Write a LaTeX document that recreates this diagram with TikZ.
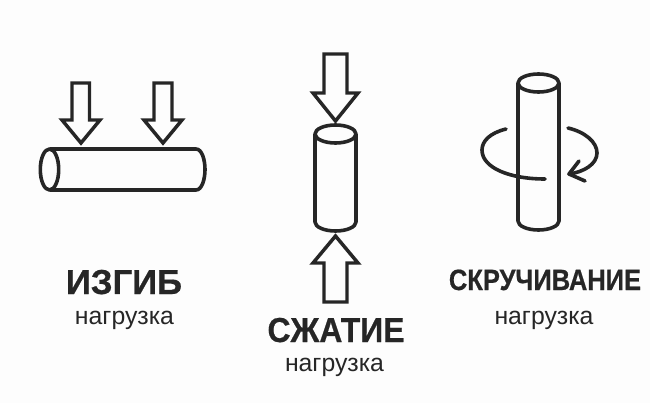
\documentclass[tikz,border=0pt]{standalone}
\usepackage{graphicx}
\usepackage{fontspec}
\setmainfont[BoldFeatures={FakeBold=0.6}]{Liberation Sans}
\definecolor{ink}{HTML}{262626}
\definecolor{paper}{HTML}{FDFDFD}
\tikzset{
  shape line/.style={draw=ink,line width=2.6pt,line join=miter,fill=none},
  thin shape/.style={draw=ink,line width=2.7pt,line join=round},
  title/.style={anchor=base,text=ink,inner sep=0pt,font=\fontsize{#1}{#1}\selectfont\bfseries},
  sub/.style={anchor=base,text=ink,inner sep=0pt,font=\fontsize{18.6}{18.6}\selectfont},
}
\begin{document}
\begin{tikzpicture}[x=0.75pt,y=-0.75pt]
\useasboundingbox (0,0) rectangle (650,403);
\fill[paper] (0,0) rectangle (650,403);
% bending
\draw[thin shape] (49.5,149) -- (196,149) .. controls (202,149) and (205,160) .. (205,169.5) .. controls (205,179) and (202,190) .. (196,190) -- (49.5,190);
\draw[thin shape] (49.5,169.5) ellipse [x radius=9.2,y radius=20.5];
\draw[shape line] (72,83) -- (89.5,83) -- (89.5,120) -- (100,120) -- (81,143) -- (62,120) -- (72,120) -- cycle;
\draw[shape line] (154,83) -- (172,83) -- (172,120) -- (182,120) -- (163,143) -- (144,120) -- (154,120) -- cycle;
% compression
\draw[shape line] (324,54) -- (347,54) -- (347,93) -- (358,93) -- (335.5,121) -- (313,93) -- (324,93) -- cycle;
\draw[shape line] (324,302) -- (347,302) -- (347,263) -- (358,263) -- (335.5,236) -- (313,263) -- (324,263) -- cycle;
\draw[thin shape] (335.5,134) ellipse [x radius=20.5,y radius=9];
\draw[thin shape] (315,134) -- (315,222) arc [start angle=180,end angle=360,x radius=20.5,y radius=-9] -- (356,134);
% torsion
\draw[thin shape] (538.5,83) ellipse [x radius=20.5,y radius=9];
\draw[thin shape] (518,83) -- (518,221) arc [start angle=180,end angle=360,x radius=20.5,y radius=-9] -- (559,83);
\draw[thin shape,line cap=round] (506,129) .. controls (490,133) and (482,141) .. (482,150) .. controls (482,168) and (510,179) .. (545,179);
\draw[thin shape,line cap=round] (568,128) .. controls (585,132) and (597,142) .. (597,153) .. controls (597,164) and (584,172) .. (569,174);
\draw[thin shape,line cap=round] (579,161) -- (569,174) -- (585,181);
% labels
\node[title=26] (t1) at (124,294) {\scalebox{1}[1]{ИЗГИБ}};
\node[sub] (s1) at (124.5,324) {нагрузка};
\node[title=26] (t2) at (336,342) {\scalebox{0.92}[1]{СЖАТИЕ}};
\node[sub] (s2) at (334.5,371) {нагрузка};
\node[title=22] (t3) at (545,290) {\scalebox{0.87}[1]{СКРУЧИВАНИЕ}};
\node[sub] (s3) at (544,324) {нагрузка};
\end{tikzpicture}
\end{document}
